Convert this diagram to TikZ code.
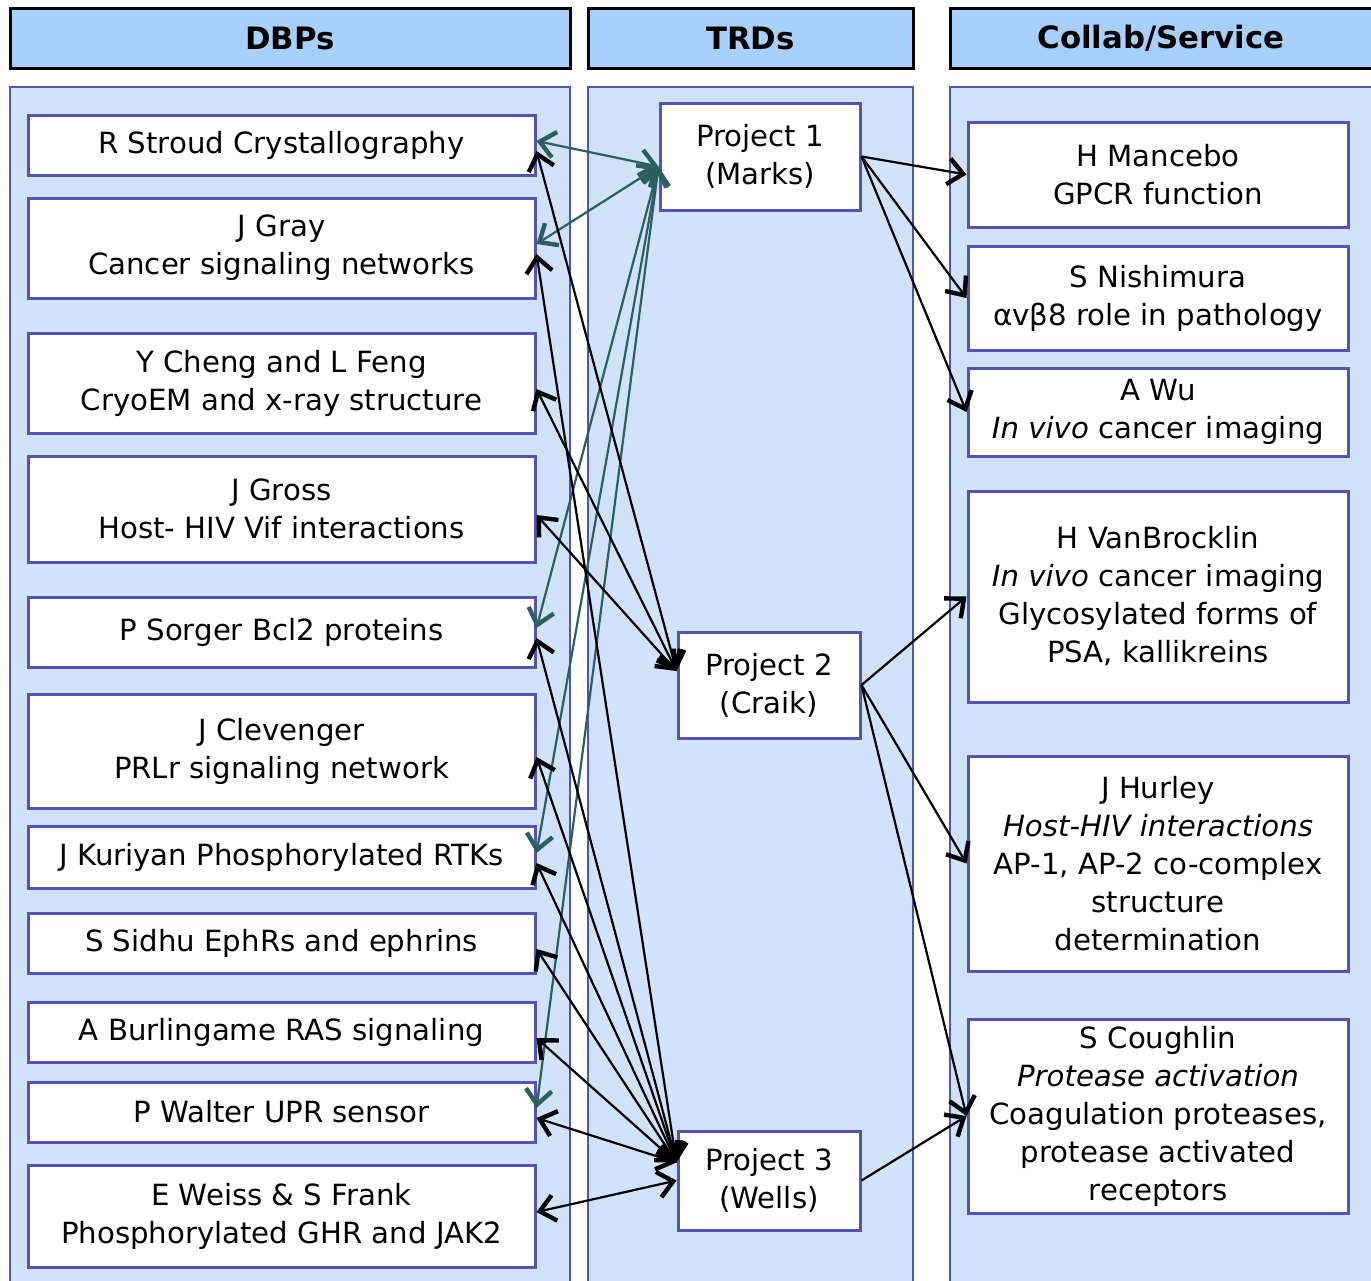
\documentclass[tikz,border=0pt]{standalone}
\usepackage{fontspec}
\setmainfont{DejaVu Sans}
\definecolor{hdrblue}{RGB}{168, 208, 250}
\definecolor{colblue}{RGB}{208, 227, 250}
\definecolor{boxline}{RGB}{84, 84, 180}
\definecolor{teallink}{RGB}{45, 95, 95}
\usetikzlibrary{arrows.meta, positioning}

\begin{document}
\begin{tikzpicture}[x=0.5pt, y=-0.5pt,
  linkhead/.tip={Straight Barb[length=7.5pt, width=13pt, line width=2.2pt]},
  header/.style={draw=black, line width=1.5pt, fill=hdrblue, inner sep=0pt,
                 minimum height=30pt, font=\bfseries\fontsize{15.4}{18}\selectfont},
  column/.style={draw=boxline, line width=1.2pt, fill=colblue},
  item/.style={draw=boxline, line width=1.5pt, fill=white, align=center,
               inner sep=0pt, font=\fontsize{14.6}{19}\selectfont},
  link/.style={linkhead-linkhead, line width=1.1pt},
  tlink/.style={linkhead-linkhead, line width=1.1pt, teallink},
  outlink/.style={-linkhead, line width=1.1pt}]
  \useasboundingbox (0,0) rectangle (1371,1280);
  % Columns
  \draw[column] (10,87) rectangle (570,1300);
  \draw[column] (588,87) rectangle (913,1300);
  \draw[column] (950,87) rectangle (1380,1300);
  \node[header, minimum width=280pt] (hdbp) at (290,38) {DBPs};
  \node[header, minimum width=162.5pt] (htrd) at (750.5,38) {TRDs};
  \node[header, minimum width=211pt] (hcol) at (1161,38) {Collab/Service};
  % DBPs
  \foreach \n/\y/\h/\t in {1/145/30/{R Stroud Crystallography},
      2/248/50/{J Gray\\Cancer signaling networks},
      3/383/50/{Y Cheng and L Feng\\CryoEM and x-ray structure},
      4/509/53/{J Gross\\Host- HIV Vif interactions},
      5/632/35/{P Sorger Bcl2 proteins},
      6/751/57/{J Clevenger\\PRLr signaling network},
      7/857/31/{J Kuriyan Phosphorylated RTKs},
      8/943/30/{S Sidhu EphRs and ephrins},
      9/1032/30/{A Burlingame RAS signaling},
      10/1112/30/{P Walter UPR sensor},
      11/1216/51/{E Weiss \& S Frank\\Phosphorylated GHR and JAK2}} {
    \node[item, minimum width=253.5pt, minimum height=\h pt] (d\n) at (281.5,\y) {\t};
  }
  % TRDs
  \node[item, minimum width=100pt, minimum height=53.5pt] (p1) at (760,156.5) {Project 1\\(Marks)};
  \node[item, minimum width=91pt, minimum height=53pt] (p2) at (769,685) {Project 2\\(Craik)};
  \node[item, minimum width=91pt, minimum height=49.5pt] (p3) at (769,1180.5) {Project 3\\(Wells)};
  % Collab/Service
  \foreach \n/\y/\h/\t in {1/174.5/52.5/{H Mancebo\\GPCR function},
      2/298/52/{S Nishimura\\αvβ8 role in pathology},
      3/412/44/{A Wu\\\textit{In vivo} cancer imaging},
      4/596.5/105.5/{H VanBrocklin\\\textit{In vivo} cancer imaging\\Glycosylated forms of\\PSA, kallikreins},
      5/863.5/107.5/{J Hurley\\\textit{Host-HIV interactions}\\AP-1, AP-2 co-complex\\structure\\determination},
      6/1116/97/{S Coughlin\\\textit{Protease activation}\\Coagulation proteases,\\protease activated\\receptors}} {
    \node[item, minimum width=190pt, minimum height=\h pt] (c\n) at (1158,\y) {\t};
  }
  % Project 1 links
  \foreach \i in {1,2,5,7,10}
    \draw[tlink] ([yshift=2pt]d\i.east) -- ([yshift=-5pt]p1.west);
  % Project 2 links
  \foreach \i in {1,3,4}
    \draw[link] ([yshift=-3pt]d\i.east) -- ([yshift=7pt]p2.west);
  % Project 3 links
  \foreach \i in {2,5,6,7,8,9,10}
    \draw[link] ([yshift=-3pt]d\i.east) -- ([yshift=9pt]p3.west);
  \draw[link] ([yshift=2pt]d11.east) -- (p3.west);
  % Outgoing
  \foreach \i in {1,2,3}
    \draw[outlink] (p1.east) -- (c\i.west);
  \foreach \i in {4,5,6}
    \draw[outlink] (p2.east) -- (c\i.west);
  \draw[outlink] (p3.east) -- (c6.west);
\end{tikzpicture}
\end{document}
